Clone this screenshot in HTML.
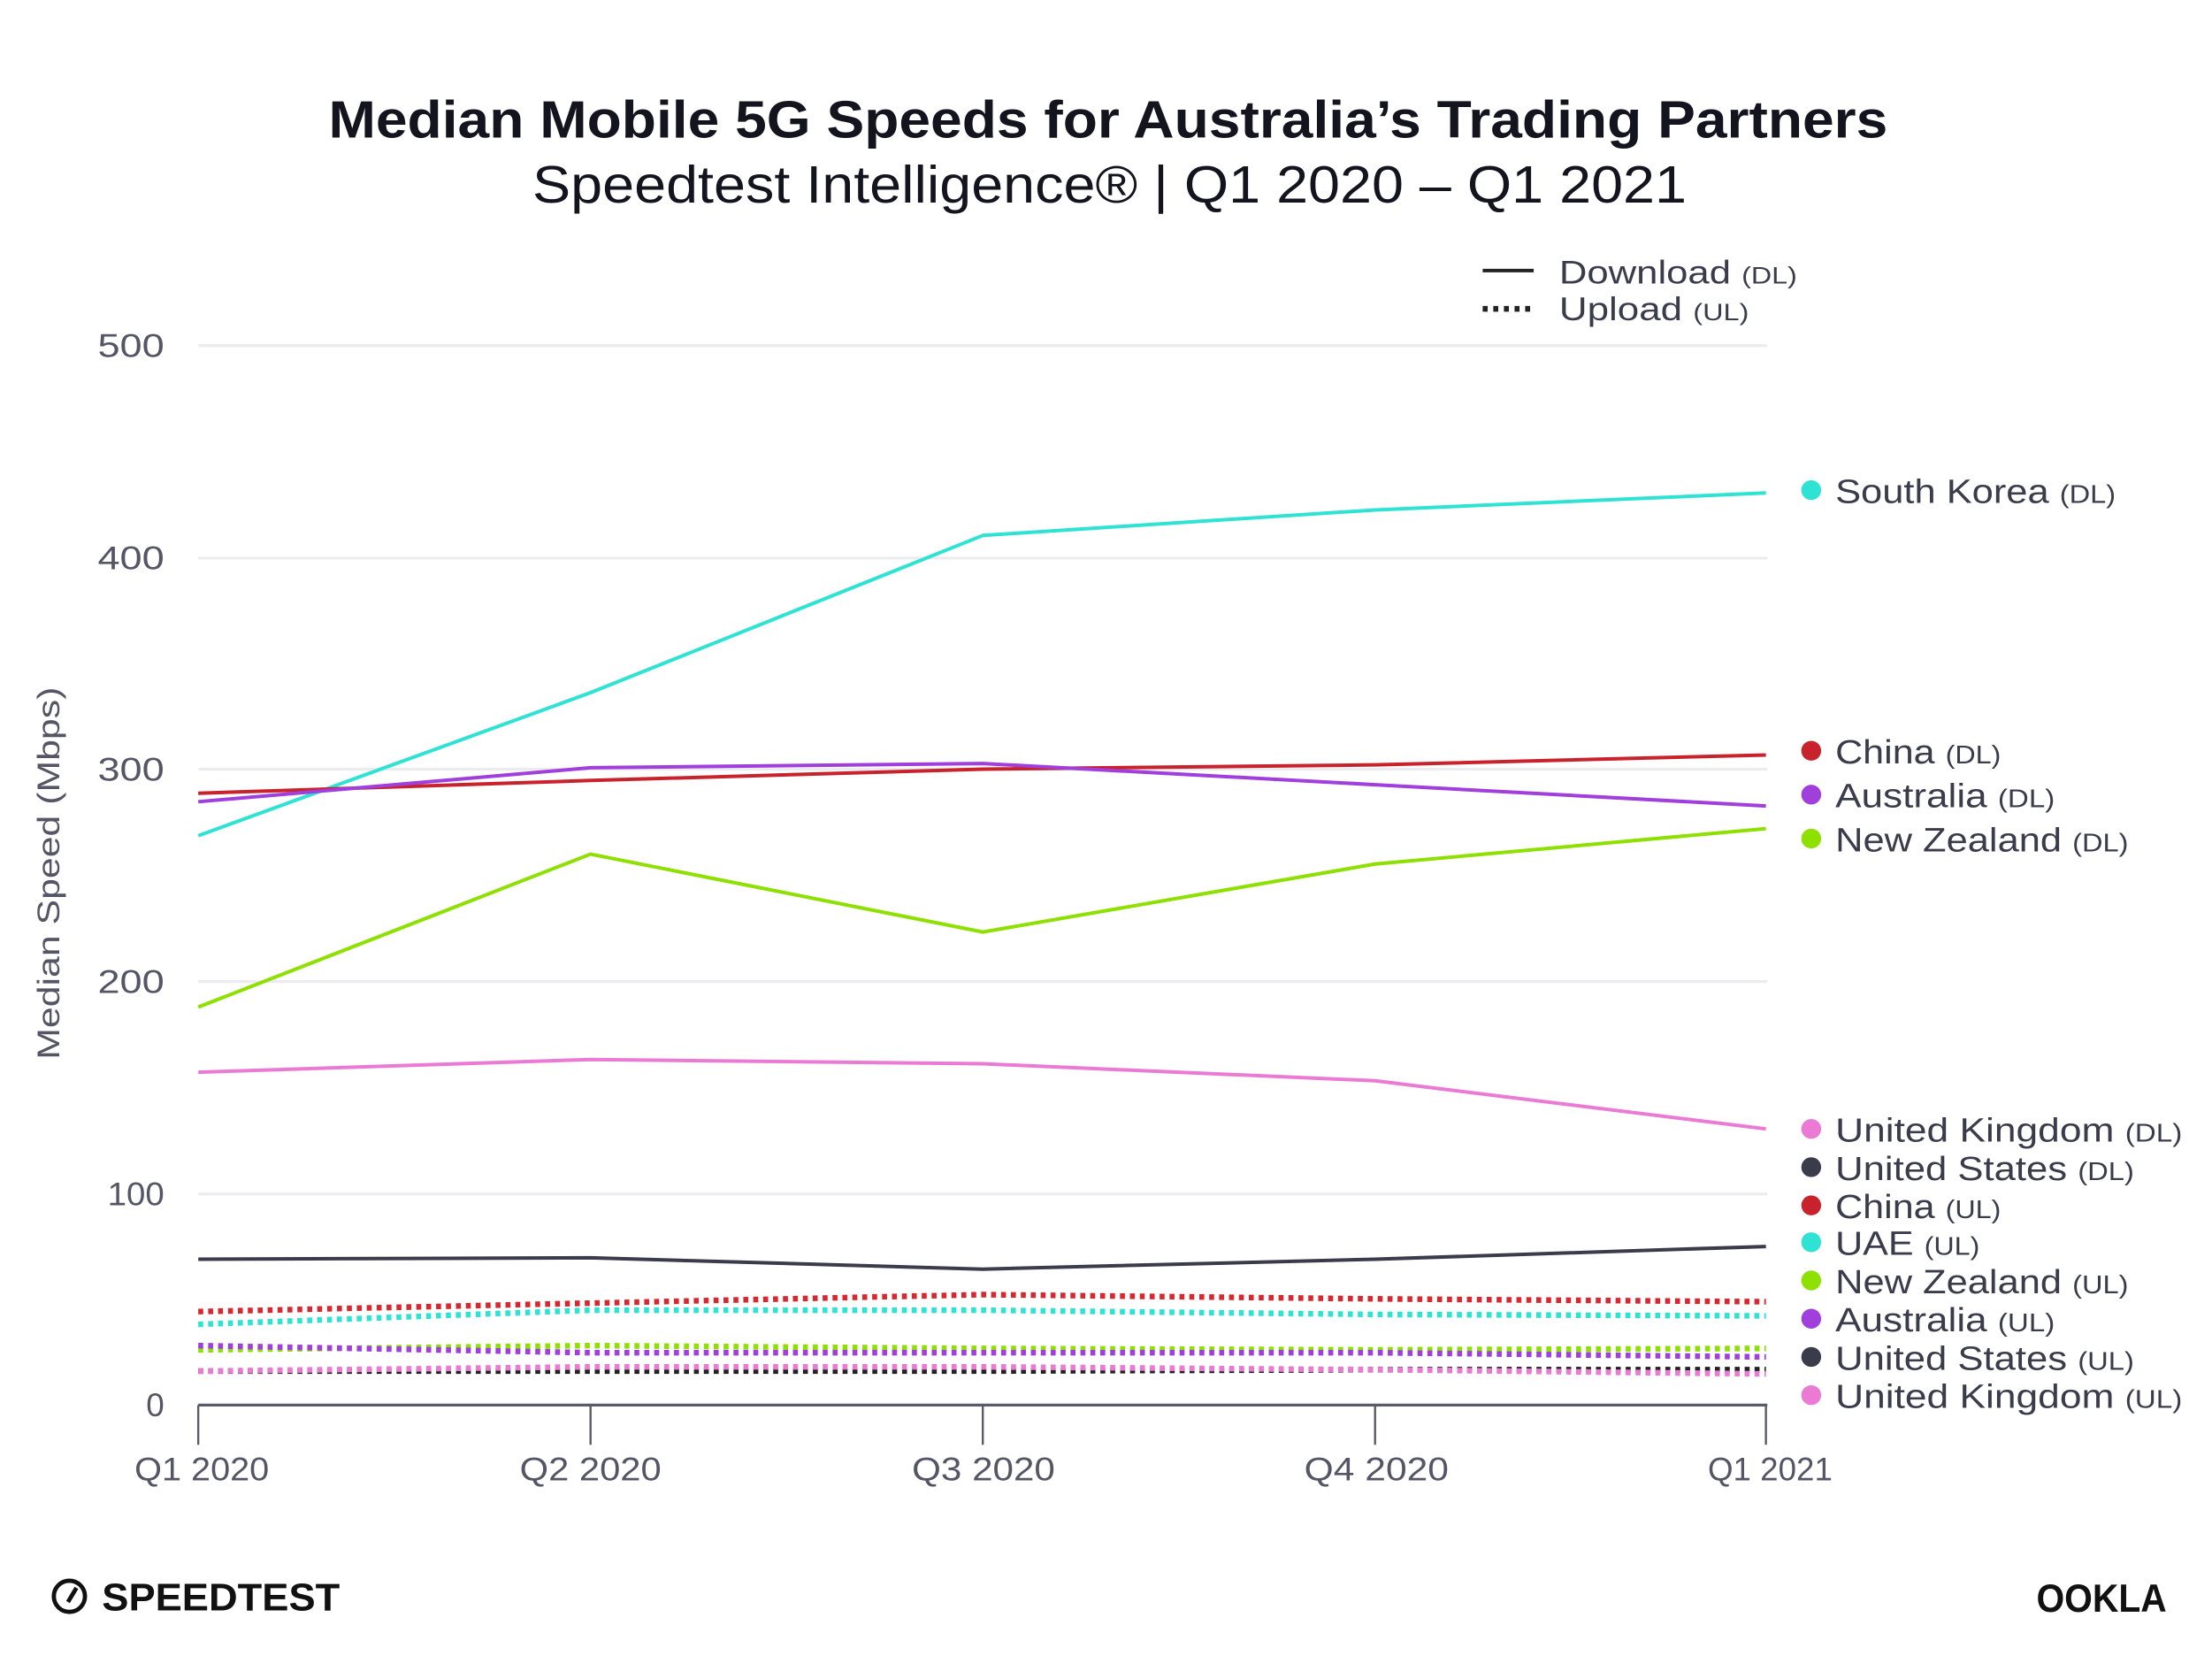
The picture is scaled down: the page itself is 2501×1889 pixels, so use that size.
<!DOCTYPE html>
<html><head><meta charset="utf-8"><style>
html,body{margin:0;padding:0;background:#fff;}
svg{display:block;}
text{font-family:"Liberation Sans",sans-serif;}
</style></head><body>
<svg width="2501" height="1889" viewBox="0 0 1562 1179.7" xmlns="http://www.w3.org/2000/svg">
<rect width="1562" height="1180" fill="#fff"/>
<text x="232" y="97" textLength="1101" lengthAdjust="spacingAndGlyphs" font-size="37" font-weight="bold" fill="#14141f">Median Mobile 5G Speeds for Australia’s Trading Partners</text>
<text x="376" y="143" textLength="815" lengthAdjust="spacingAndGlyphs" font-size="37" fill="#14141f">Speedtest Intelligence® | Q1 2020 – Q1 2021</text>
<line x1="1047" y1="191" x2="1083" y2="191" stroke="#222" stroke-width="2.5"/>
<text x="1101" y="200" textLength="168" lengthAdjust="spacingAndGlyphs" font-size="23" fill="#3a3b4b">Download <tspan font-size="17">(DL)</tspan></text>
<line x1="1047" y1="218" x2="1083" y2="218" stroke="#222" stroke-width="4" stroke-dasharray="3.5 4"/>
<text x="1101" y="226" textLength="134" lengthAdjust="spacingAndGlyphs" font-size="23" fill="#3a3b4b">Upload <tspan font-size="17">(UL)</tspan></text>
<g stroke="#ececf0" stroke-width="2">
<line x1="140" y1="244" x2="1248" y2="244"/><line x1="140" y1="394" x2="1248" y2="394"/>
<line x1="140" y1="543" x2="1248" y2="543"/><line x1="140" y1="693" x2="1248" y2="693"/>
<line x1="140" y1="843" x2="1248" y2="843"/></g>
<g font-size="23" fill="#555566">
<text x="69" y="252" textLength="47" lengthAdjust="spacingAndGlyphs">500</text>
<text x="69" y="402" textLength="47" lengthAdjust="spacingAndGlyphs">400</text>
<text x="69" y="551" textLength="47" lengthAdjust="spacingAndGlyphs">300</text>
<text x="69" y="701" textLength="47" lengthAdjust="spacingAndGlyphs">200</text>
<text x="76" y="851" textLength="40" lengthAdjust="spacingAndGlyphs">100</text>
<text x="116" y="1000" text-anchor="end">0</text></g>
<text transform="translate(42 617) rotate(-90)" x="-131" y="0" textLength="263" lengthAdjust="spacingAndGlyphs" font-size="22" fill="#555566">Median Speed (Mbps)</text>
<line x1="140" y1="992" x2="1248" y2="992" stroke="#5a5a6a" stroke-width="2"/>
<g stroke="#5a5a6a" stroke-width="1.5">
<line x1="140" y1="992" x2="140" y2="1020"/><line x1="417" y1="992" x2="417" y2="1020"/>
<line x1="694" y1="992" x2="694" y2="1020"/><line x1="971" y1="992" x2="971" y2="1020"/>
<line x1="1247" y1="992" x2="1247" y2="1020"/></g>
<g font-size="23" fill="#555566">
<text x="95" y="1045" textLength="95" lengthAdjust="spacingAndGlyphs">Q1 2020</text>
<text x="367" y="1045" textLength="100" lengthAdjust="spacingAndGlyphs">Q2 2020</text>
<text x="644" y="1045" textLength="101" lengthAdjust="spacingAndGlyphs">Q3 2020</text>
<text x="921" y="1045" textLength="102" lengthAdjust="spacingAndGlyphs">Q4 2020</text>
<text x="1206" y="1045" textLength="88" lengthAdjust="spacingAndGlyphs">Q1 2021</text></g>
<g fill="none" stroke-width="2.5" stroke-linejoin="round">
<polyline stroke="#2ee3d3" points="140,590 417,489 694,378 971,360 1247,348"/>
<polyline stroke="#c8232c" points="140,560 417,551 694,543 971,540 1247,533"/>
<polyline stroke="#a03fdc" points="140,566 417,542 694,539 971,554 1247,569"/>
<polyline stroke="#8ee000" points="140,711 417,603 694,658 971,610 1247,585"/>
<polyline stroke="#eb7ad4" points="140,757 417,748 694,751 971,763 1247,797"/>
<polyline stroke="#3a3b4b" points="140,889 417,888 694,896 971,889 1247,880"/>
</g>
<g fill="none" stroke-width="4" stroke-dasharray="3.5 3.5">
<polyline stroke="#d8282f" points="140,926 417,920 694,914 971,917 1247,919"/>
<polyline stroke="#2ee3d3" points="140,935 417,925 694,925 971,928 1247,929"/>
<polyline stroke="#8ee000" points="140,953 417,950 694,952 971,953 1247,952"/>
<polyline stroke="#a03fdc" points="140,950 417,955 694,955 971,955 1247,958"/>
<polyline stroke="#222" points="140,968 417,968 694,968 971,967 1247,967"/>
<polyline stroke="#eb7ad4" points="140,968 417,965 694,965 971,967 1247,970"/>
</g>
<g font-size="24" fill="#3a3b4b">
<circle cx="1279" cy="346" r="7" fill="#2ee3d3"/><text x="1296" y="355" textLength="198" lengthAdjust="spacingAndGlyphs">South Korea <tspan font-size="18">(DL)</tspan></text>
<circle cx="1279" cy="530" r="7" fill="#c8232c"/><text x="1296" y="539" textLength="117" lengthAdjust="spacingAndGlyphs">China <tspan font-size="18">(DL)</tspan></text>
<circle cx="1279" cy="561" r="7" fill="#a03fdc"/><text x="1296" y="570" textLength="155" lengthAdjust="spacingAndGlyphs">Australia <tspan font-size="18">(DL)</tspan></text>
<circle cx="1279" cy="592" r="7" fill="#8ee000"/><text x="1296" y="601" textLength="207" lengthAdjust="spacingAndGlyphs">New Zealand <tspan font-size="18">(DL)</tspan></text>
<circle cx="1279" cy="797" r="7" fill="#eb7ad4"/><text x="1296" y="806" textLength="245" lengthAdjust="spacingAndGlyphs">United Kingdom <tspan font-size="18">(DL)</tspan></text>
<circle cx="1279" cy="824" r="7" fill="#3a3b4b"/><text x="1296" y="833" textLength="211" lengthAdjust="spacingAndGlyphs">United States <tspan font-size="18">(DL)</tspan></text>
<circle cx="1279" cy="851" r="7" fill="#c8232c"/><text x="1296" y="860" textLength="117" lengthAdjust="spacingAndGlyphs">China <tspan font-size="18">(UL)</tspan></text>
<circle cx="1279" cy="877" r="7" fill="#2ee3d3"/><text x="1296" y="886" textLength="102" lengthAdjust="spacingAndGlyphs">UAE <tspan font-size="18">(UL)</tspan></text>
<circle cx="1279" cy="904" r="7" fill="#8ee000"/><text x="1296" y="913" textLength="207" lengthAdjust="spacingAndGlyphs">New Zealand <tspan font-size="18">(UL)</tspan></text>
<circle cx="1279" cy="931" r="7" fill="#a03fdc"/><text x="1296" y="940" textLength="155" lengthAdjust="spacingAndGlyphs">Australia <tspan font-size="18">(UL)</tspan></text>
<circle cx="1279" cy="958" r="7" fill="#3a3b4b"/><text x="1296" y="967" textLength="211" lengthAdjust="spacingAndGlyphs">United States <tspan font-size="18">(UL)</tspan></text>
<circle cx="1279" cy="985" r="7" fill="#eb7ad4"/><text x="1296" y="994" textLength="245" lengthAdjust="spacingAndGlyphs">United Kingdom <tspan font-size="18">(UL)</tspan></text>
</g>
<circle cx="49" cy="1127" r="11" fill="none" stroke="#111" stroke-width="3"/>
<line x1="48" y1="1131" x2="54" y2="1121" stroke="#111" stroke-width="3"/>
<text x="72" y="1137" textLength="168" lengthAdjust="spacingAndGlyphs" font-size="27" font-weight="bold" fill="#111">SPEEDTEST</text>
<text x="1438" y="1138" textLength="92" lengthAdjust="spacingAndGlyphs" font-size="28" font-weight="bold" fill="#111">OOKLA</text>
</svg>
</body></html>
